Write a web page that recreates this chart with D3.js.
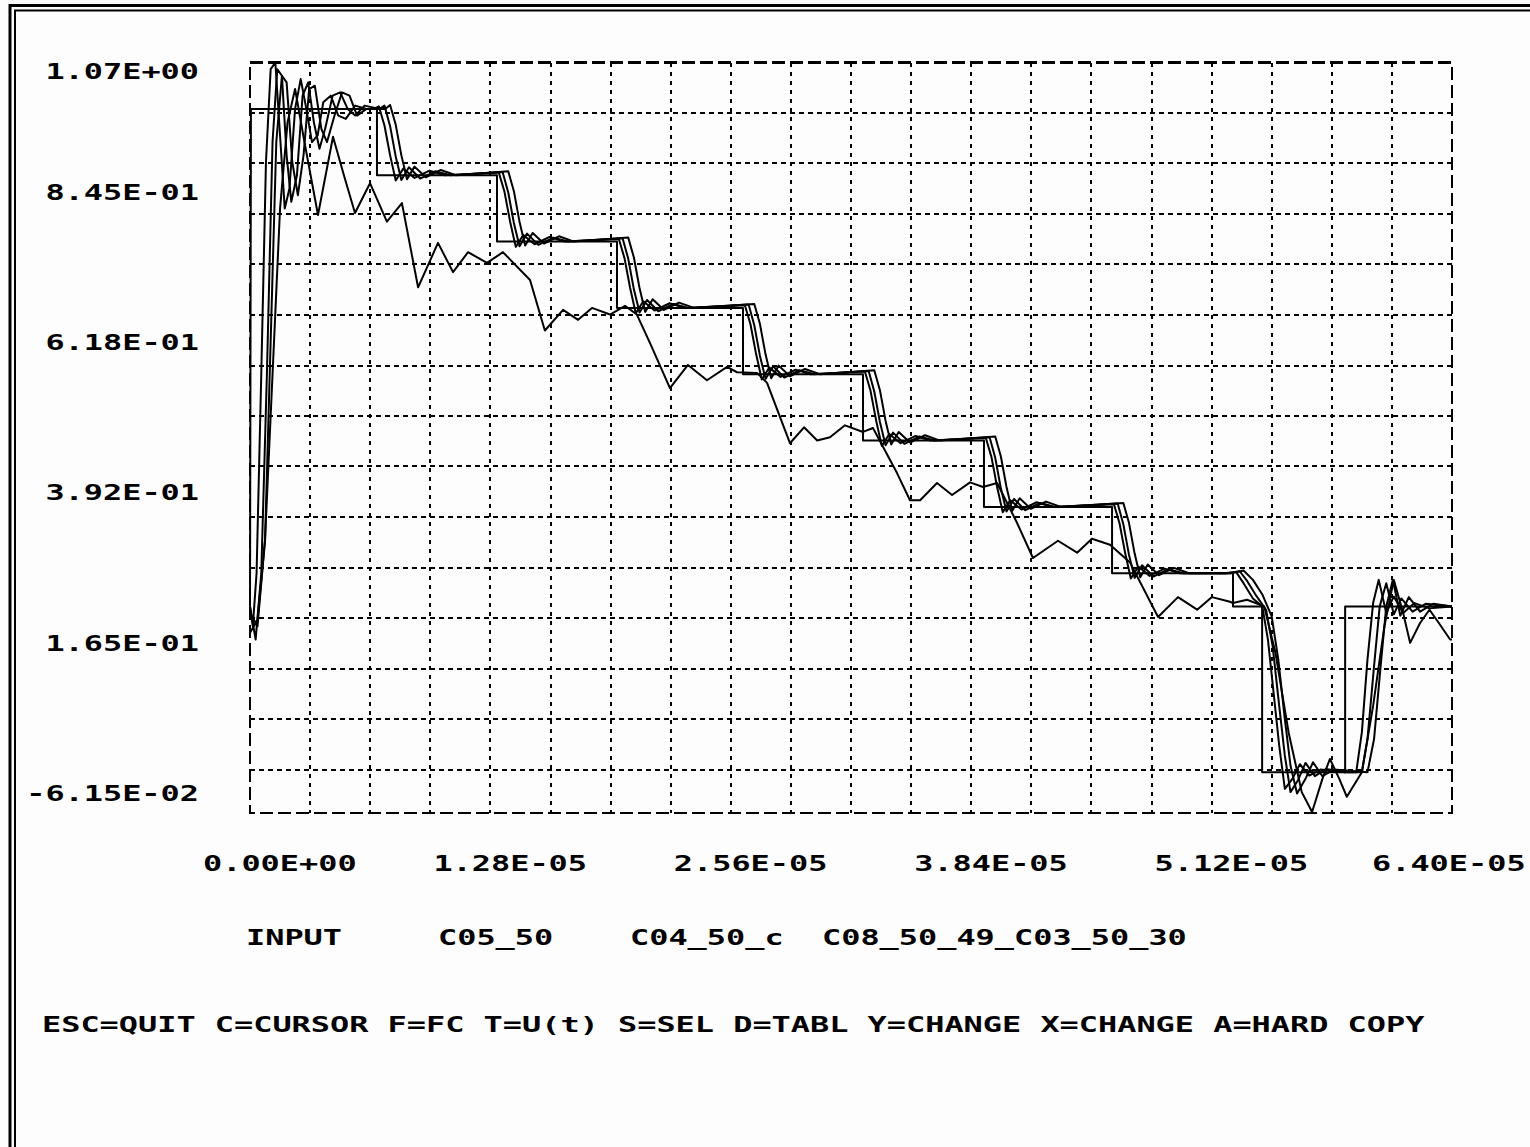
<!DOCTYPE html>
<html>
<head>
<meta charset="utf-8">
<script src="https://d3js.org/d3.v7.min.js"></script>
<style>
  html, body { margin: 0; padding: 0; background: #fff; }
  svg { display: block; }
</style>
</head>
<body>
<script>

// ---- data (time in microseconds, value in volts) ----
var xTicks = [0, 12.8, 25.6, 38.4, 51.2, 64.0];
var xTickLabels = ["0.00E+00", "1.28E-05", "2.56E-05", "3.84E-05", "5.12E-05", "6.40E-05"];
var yTicks = [1.07, 0.845, 0.618, 0.392, 0.165, -0.0615];
var yTickLabels = ["1.07E+00", "8.45E-01", "6.18E-01", "3.92E-01", "1.65E-01", "-6.15E-02"];
var seriesNames = ["INPUT", "C05_50", "C04_50_c", "C08_50_49_", "C03_50_30"];
var helpLine = "ESC=QUIT C=CURSOR F=FC T=U(t) S=SEL D=TABL Y=CHANGE X=CHANGE A=HARD COPY";

var input = [[0,0.25],[0.05,1.0],[6.76,1.0],[6.76,0.9],[13.15,0.9],[13.15,0.8],[19.54,0.8],[19.54,0.7],
  [26.25,0.7],[26.25,0.6],[32.64,0.6],[32.64,0.5],[39.08,0.5],[39.08,0.4],[45.9,0.4],[45.9,0.3],
  [52.34,0.3],[52.34,0.25],[53.89,0.25],[53.89,0.0],[58.31,0.0],[58.31,0.25],[64,0.25]];

var c05_50 = [[0,0.25],[0.15,0.22],[0.35,0.3],[0.6,0.6],[0.85,0.92],[1.1,1.06],[1.35,1.07],[1.6,0.96],[1.85,0.85],
  [2.1,0.88],[2.4,1.0],[2.7,1.045],[3.0,1.0],[3.3,0.95],[3.6,0.96],[3.9,1.01],[4.3,1.02],[4.7,0.99],[5.1,0.985],
  [5.6,1.005],[6.2,1.0],[6.6,1.0],
  [6.86,1.004],[7.16,0.975],[7.46,0.93],[7.76,0.892],[8.16,0.91],[8.76,0.896],[9.56,0.907],[10.36,0.9],
  [13.25,0.904],[13.55,0.875],[13.85,0.83],[14.15,0.792],[14.55,0.81],[15.15,0.796],[15.95,0.807],[16.75,0.8],
  [19.64,0.804],[19.94,0.775],[20.24,0.73],[20.54,0.692],[20.94,0.71],[21.54,0.696],[22.34,0.707],[23.14,0.7],
  [26.35,0.704],[26.65,0.675],[26.95,0.63],[27.25,0.592],[27.65,0.61],[28.25,0.596],[29.05,0.607],[29.85,0.6],
  [32.74,0.604],[33.04,0.575],[33.34,0.53],[33.64,0.492],[34.04,0.51],[34.64,0.496],[35.44,0.507],[36.24,0.5],
  [39.18,0.504],[39.48,0.475],[39.78,0.43],[40.08,0.392],[40.48,0.41],[41.08,0.396],[41.88,0.407],[42.68,0.4],
  [46.0,0.404],[46.3,0.375],[46.6,0.33],[46.9,0.292],[47.3,0.31],[47.9,0.296],[48.7,0.307],[49.5,0.3],
  [51.9,0.3],[52.5,0.302],[52.9,0.285],[53.4,0.262],[53.9,0.25],[54.2,0.2],[54.5,0.12],[54.8,0.04],[55.1,-0.025],
  [55.5,-0.01],[55.9,0.012],[56.4,-0.005],[57.0,0.004],[58.3,0.0],[58.9,0.0],[59.2,0.06],[59.5,0.17],[59.8,0.255],
  [60.1,0.29],[60.5,0.24],[60.9,0.265],[61.4,0.24],[62.0,0.255],[62.8,0.247],[64,0.25]];

var c04_50_c = [[0,0.25],[0.3,0.2],[0.6,0.3],[0.9,0.6],[1.2,0.95],[1.45,1.06],[1.7,1.05],[1.95,0.93],[2.2,0.86],
  [2.5,0.9],[2.8,1.02],[3.1,1.04],[3.4,0.98],[3.7,0.94],[4.0,0.97],[4.4,1.02],[4.8,1.025],[5.2,1.0],[5.6,0.99],
  [6.1,1.005],[6.9,1.0],
  [7.16,1.005],[7.46,0.974],[7.76,0.928],[8.06,0.893],[8.46,0.912],[9.06,0.895],[9.86,0.906],[10.66,0.9],
  [13.45,0.905],[13.75,0.874],[14.05,0.828],[14.35,0.793],[14.75,0.812],[15.35,0.795],[16.15,0.806],[16.95,0.8],
  [19.84,0.805],[20.14,0.774],[20.44,0.728],[20.74,0.693],[21.14,0.712],[21.74,0.695],[22.54,0.706],[23.34,0.7],
  [26.55,0.705],[26.85,0.674],[27.15,0.628],[27.45,0.593],[27.85,0.612],[28.45,0.595],[29.25,0.606],[30.05,0.6],
  [32.94,0.605],[33.24,0.574],[33.54,0.528],[33.84,0.493],[34.24,0.512],[34.84,0.495],[35.64,0.506],[36.44,0.5],
  [39.38,0.505],[39.68,0.474],[39.98,0.428],[40.28,0.393],[40.68,0.412],[41.28,0.395],[42.08,0.406],[42.88,0.4],
  [46.2,0.405],[46.5,0.374],[46.8,0.328],[47.1,0.293],[47.5,0.312],[48.1,0.295],[48.9,0.306],[49.7,0.3],
  [52.0,0.3],[52.7,0.303],[53.1,0.288],[53.6,0.265],[54.1,0.245],[54.45,0.19],[54.8,0.1],[55.1,0.025],[55.4,-0.03],
  [55.8,-0.012],[56.2,0.014],[56.7,-0.006],[57.3,0.005],[58.3,0.0],[59.2,0.0],[59.5,0.05],[59.85,0.16],[60.15,0.25],
  [60.5,0.285],[60.9,0.238],[61.3,0.262],[61.9,0.242],[62.6,0.254],[64,0.25]];

var c08_50_49 = [[0,0.24],[0.4,0.22],[0.8,0.35],[1.1,0.65],[1.4,0.95],[1.7,1.05],[1.95,1.04],[2.25,0.92],[2.55,0.87],
  [2.85,0.93],[3.15,1.03],[3.45,1.035],[3.8,0.97],[4.1,0.95],[4.5,0.99],[4.9,1.025],[5.3,1.02],[5.7,0.99],[6.2,1.0],
  [7.2,1.0],
  [7.46,1.006],[7.76,0.976],[8.06,0.93],[8.36,0.894],[8.76,0.913],[9.36,0.897],[10.16,0.908],[10.96,0.9],
  [13.75,0.906],[14.05,0.876],[14.35,0.83],[14.65,0.794],[15.05,0.813],[15.65,0.797],[16.45,0.808],[17.25,0.8],
  [20.14,0.806],[20.44,0.776],[20.74,0.73],[21.04,0.694],[21.44,0.713],[22.04,0.697],[22.84,0.708],[23.64,0.7],
  [26.85,0.706],[27.15,0.676],[27.45,0.63],[27.75,0.594],[28.15,0.613],[28.75,0.597],[29.55,0.608],[30.35,0.6],
  [33.24,0.606],[33.54,0.576],[33.84,0.53],[34.14,0.494],[34.54,0.513],[35.14,0.497],[35.94,0.508],[36.74,0.5],
  [39.68,0.506],[39.98,0.476],[40.28,0.43],[40.58,0.394],[40.98,0.413],[41.58,0.397],[42.38,0.408],[43.18,0.4],
  [46.5,0.406],[46.8,0.376],[47.1,0.33],[47.4,0.294],[47.8,0.313],[48.4,0.297],[49.2,0.308],[50.0,0.3],
  [52.2,0.3],[52.9,0.304],[53.4,0.29],[53.9,0.268],[54.4,0.235],[54.75,0.17],[55.1,0.08],[55.4,0.01],[55.75,-0.032],
  [56.2,-0.01],[56.6,0.015],[57.1,-0.006],[57.7,0.004],[59.5,0.0],[59.85,0.05],[60.2,0.16],[60.5,0.25],[60.85,0.29],
  [61.25,0.236],[61.7,0.264],[62.3,0.242],[63.0,0.254],[64,0.25]];

var c03_50_30 = [[0,0.21],[0.4,0.23],[0.8,0.35],[1.2,0.6],[1.6,0.85],[2.0,0.98],[2.4,1.03],[2.9,0.95],[3.62,0.84],
  [4.42,0.958],[5.0,0.9],[5.59,0.843],[6.39,0.888],[7.29,0.83],[8.09,0.858],[8.95,0.731],[10.01,0.798],[10.81,0.754],
  [11.61,0.784],[12.62,0.768],[13.47,0.784],[14.91,0.742],[15.7,0.666],[16.67,0.697],[17.47,0.682],[18.21,0.7],
  [19.17,0.69],[19.97,0.703],[20.6,0.69],[21.3,0.647],[22.36,0.579],[23.32,0.614],[24.33,0.591],[25.4,0.611],
  [25.93,0.603],[27.0,0.602],[27.53,0.587],[28.75,0.496],[29.5,0.52],[30.2,0.5],[30.88,0.505],[31.68,0.523],
  [32.64,0.513],[33.17,0.519],[34.45,0.451],[35.14,0.41],[35.68,0.41],[36.58,0.436],[37.38,0.418],[38.34,0.437],
  [39.03,0.43],[39.78,0.436],[40.84,0.376],[41.69,0.323],[43.02,0.349],[44.04,0.331],[44.83,0.352],[45.79,0.343],
  [46.86,0.316],[48.35,0.234],[49.41,0.264],[50.43,0.245],[51.22,0.264],[52.18,0.257],[52.34,0.255],[53.09,0.26],
  [54.0,0.25],[54.6,0.18],[55.3,0.06],[56.0,-0.03],[56.55,-0.06],[57.1,-0.01],[57.5,0.02],[58.0,-0.01],[58.4,-0.037],
  [59.2,0.0],[59.8,0.1],[60.4,0.22],[60.9,0.29],[61.4,0.24],[61.77,0.195],[62.3,0.225],[62.8,0.245],[63.3,0.225],
  [63.9,0.2],[64,0.2]];

var seriesData = [input, c05_50, c04_50_c, c08_50_49, c03_50_30];

// ---- layout ----
var width = 1530, height = 1147;
var plot = {left: 250, right: 1452, top: 62.5, bottom: 813};
var CH = 19.2;          // character cell width of the screen font
var rowPx = 50.5;       // horizontal grid spacing

var x = d3.scaleLinear().domain([0, 64]).range([plot.left, plot.right]);
var y = d3.scaleLinear().domain([-0.0615, 1.07]).range([plot.bottom, plot.top]);

var svg = d3.select("body").append("svg")
    .attr("width", width)
    .attr("height", height);

svg.append("rect").attr("width", width).attr("height", height).attr("fill", "#fdfdfd");

// double frame of the screen window
svg.append("path").attr("d", "M10,1160 V5.5 H1540")
    .attr("fill", "none").attr("stroke", "#000").attr("stroke-width", 3);
svg.append("path").attr("d", "M15,1160 V10.5 H1540")
    .attr("fill", "none").attr("stroke", "#000").attr("stroke-width", 2);

// grid
var grid = svg.append("g").attr("stroke", "#000").attr("shape-rendering", "crispEdges");

grid.selectAll(".vgrid")
  .data(d3.range(1, 20).map(function(k) { return k * 3.2; }))
  .enter().append("line")
    .attr("x1", function(d) { return Math.round(x(d)); })
    .attr("x2", function(d) { return Math.round(x(d)); })
    .attr("y1", plot.top)
    .attr("y2", plot.bottom)
    .attr("stroke-width", 2)
    .attr("stroke-dasharray", "4,5");

grid.selectAll(".hgrid")
  .data(d3.range(1, 15).map(function(k) { return y.invert(plot.top + k * rowPx); }))
  .enter().append("line")
    .attr("x1", plot.left)
    .attr("x2", plot.right)
    .attr("y1", function(d) { return Math.round(y(d)); })
    .attr("y2", function(d) { return Math.round(y(d)); })
    .attr("stroke-width", 2)
    .attr("stroke-dasharray", "5,4");

grid.append("rect")
    .attr("x", plot.left).attr("y", plot.top)
    .attr("width", plot.right - plot.left).attr("height", plot.bottom - plot.top)
    .attr("fill", "none")
    .attr("stroke-width", 2.5)
    .attr("stroke-dasharray", "13,5");

// curves
svg.append("clipPath").attr("id", "clip")
  .append("rect")
    .attr("x", plot.left - 2).attr("y", plot.top - 2)
    .attr("width", plot.right - plot.left + 4).attr("height", plot.bottom - plot.top + 4);

var line = d3.line()
    .x(function(d) { return x(d[0]); })
    .y(function(d) { return y(d[1]); });

svg.append("g").attr("clip-path", "url(#clip)")
  .selectAll("path")
  .data(seriesData)
  .enter().append("path")
    .attr("d", line)
    .attr("fill", "none")
    .attr("stroke", "#000")
    .attr("stroke-width", 2)
    .attr("stroke-linejoin", "round");

// screen text
var txt = svg.append("g")
    .attr("font-family", "'DejaVu Sans Mono', 'Liberation Mono', monospace")
    .attr("font-weight", "bold")
    .attr("font-size", 22)
    .attr("fill", "#000");

function screenText(str, xPos, baseline, anchor) {
  return txt.append("text")
    .attr("x", xPos)
    .attr("y", baseline)
    .attr("text-anchor", anchor || "start")
    .attr("textLength", str.length * CH)
    .attr("lengthAdjust", "spacingAndGlyphs")
    .style("white-space", "pre")
    .text(str);
}

// y labels (the old program snaps them to text rows above the value)
yTicks.forEach(function(v, i) {
  var yc = i === 0 ? y(v) + 8.5 : y(v) - 20;
  screenText(yTickLabels[i], 199, yc + 8, "end");
});

// x labels
xTicks.forEach(function(v, i) {
  var x0 = Math.min(Math.max(x(v) - 57, 203), 1372);
  screenText(xTickLabels[i], x0, 871);
});

// legend: 10-character slots
seriesNames.forEach(function(name, i) {
  screenText(name, 246 + i * 10 * CH, 945);
});

screenText(helpLine, 42, 1032);

</script>
</body>
</html>
